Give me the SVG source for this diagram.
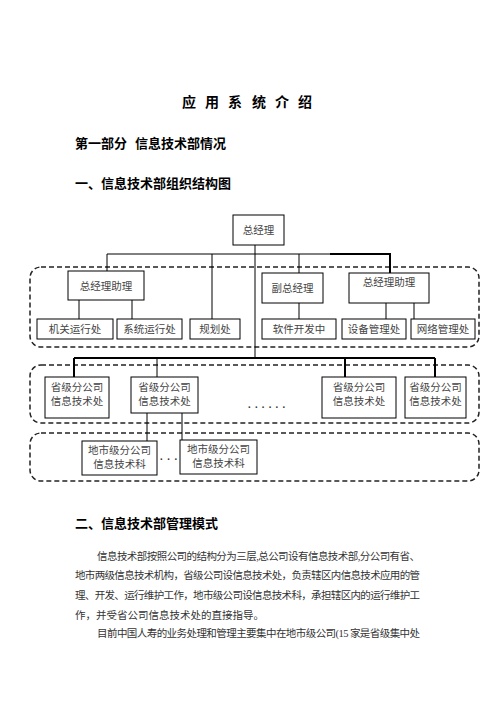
<svg xmlns="http://www.w3.org/2000/svg" width="496" height="702" viewBox="0 0 496 702">
<style>
.h{font-family:"Noto Sans CJK SC","Liberation Sans",sans-serif;font-weight:bold;fill:#000}
.b{font-family:"Liberation Serif","Noto Sans CJK SC",serif;font-size:10.5px;fill:#333}
.n{font-family:"Liberation Serif","Noto Sans CJK SC",serif;font-size:10.5px;fill:#444;text-anchor:middle}
.box{fill:#fff;stroke:#000;stroke-width:1}
.dash{fill:none;stroke:#222;stroke-width:1.5;stroke-dasharray:5,3}
.c{stroke:#000;stroke-width:1;fill:none}
.t{stroke:#000;stroke-width:2;fill:none}
</style>
<rect width="496" height="702" fill="#fff"/>
<text class="h" font-size="14" text-anchor="middle" x="189 212 235 259 282 305" y="107">应用系统介绍</text>
<text class="h" font-size="13" x="75" y="148">第一部分</text>
<text class="h" font-size="13" x="135" y="148">信息技术部情况</text>
<text class="h" font-size="13" x="75" y="188">一、信息技术部组织结构图</text>
<g id="groups">
<rect class="dash" x="30" y="267" width="449" height="80" rx="11"/>
<rect class="dash" x="30" y="365" width="449" height="58" rx="11"/>
<rect class="dash" x="30" y="433" width="449" height="48" rx="11"/>
</g>
<g id="connectors">
<path class="c" stroke-width="1.5" d="M107 254H390M107 254V271M212 254V319M299 254V273"/>
<path class="c" d="M299 303V319M79 300V319M132 300V319M386 303V319M414 303V319M157 358V377M147 413V441M182 413V440"/>
<path class="c" stroke-width="1.5" d="M255 245V358"/>
<path class="t" d="M330 254H390V273M74 358H435M74 358V377M345 358V377M435 358V377"/>
</g>
<g id="n-zjl"><rect class="box" x="233" y="215" width="51" height="30"/><text class="n" x="258.5" y="234" font-size="11">总经理</text></g>
<g id="n-zl1"><rect class="box" x="68" y="271" width="76" height="29"/><text class="n" x="106" y="290" font-size="11">总经理助理</text></g>
<g id="n-fzjl"><rect class="box" x="262" y="273" width="61" height="30"/><text class="n" x="292.5" y="292">副总经理</text></g>
<g id="n-zl2"><rect class="box" x="349" y="273" width="80" height="30"/><text class="n" x="389" y="286">总经理助理</text></g>
<g id="n-jg"><rect class="box" x="37" y="319" width="76" height="20"/><text class="n" x="75" y="333">机关运行处</text></g>
<g id="n-xt"><rect class="box" x="117" y="319" width="65" height="20"/><text class="n" x="149.5" y="333">系统运行处</text></g>
<g id="n-gh"><rect class="box" x="190" y="319" width="50" height="20"/><text class="n" x="215" y="333">规划处</text></g>
<g id="n-rj"><rect class="box" x="262" y="319" width="74" height="20"/><text class="n" x="299" y="333">软件开发中</text></g>
<g id="n-sb"><rect class="box" x="342" y="319" width="64" height="20"/><text class="n" x="374" y="333">设备管理处</text></g>
<g id="n-wl"><rect class="box" x="411" y="319" width="64" height="20"/><text class="n" x="443" y="333">网络管理处</text></g>
<g id="n-sj1"><rect class="box" x="45" y="377" width="64" height="41"/><text class="n" x="77" y="391">省级分公司</text><text class="n" x="77" y="405">信息技术处</text></g>
<g id="n-sj2"><rect class="box" x="131" y="377" width="67" height="36"/><text class="n" x="164.5" y="391">省级分公司</text><text class="n" x="164.5" y="405">信息技术处</text></g>
<g id="n-sj3"><rect class="box" x="322" y="377" width="74" height="41"/><text class="n" x="359" y="391">省级分公司</text><text class="n" x="359" y="405">信息技术处</text></g>
<g id="n-sj4"><rect class="box" x="405" y="377" width="61" height="41"/><text class="n" x="435.5" y="391">省级分公司</text><text class="n" x="435.5" y="405">信息技术处</text></g>
<text class="b" x="248" y="408" font-size="12" font-weight="bold" textLength="37" lengthAdjust="spacing">......</text>
<g id="n-ds1"><rect class="box" x="82" y="441" width="75" height="34"/><text class="n" x="119.5" y="454">地市级分公司</text><text class="n" x="119.5" y="468">信息技术科</text></g>
<text class="b" x="160" y="460" font-size="12" font-weight="bold" textLength="17" lengthAdjust="spacing">...</text>
<g id="n-ds2"><rect class="box" x="180" y="440" width="77" height="34"/><text class="n" x="218.5" y="453">地市级分公司</text><text class="n" x="218.5" y="467">信息技术科</text></g>
<text class="h" font-size="13" x="75" y="528">二、信息技术部管理模式</text>
<text class="b" x="97" y="560" textLength="323" lengthAdjust="spacing">信息技术部按照公司的结构分为三层,总公司设有信息技术部,分公司有省、</text>
<text class="b" x="75" y="579" textLength="345" lengthAdjust="spacing">地市两级信息技术机构，省级公司设信息技术处，负责辖区内信息技术应用的管</text>
<text class="b" x="75" y="599" textLength="345" lengthAdjust="spacing">理、开发、运行维护工作，地市级公司设信息技术科，承担辖区内的运行维护工</text>
<text class="b" x="75" y="619">作，并受省公司信息技术处的直接指导。</text>
<text class="b" x="97" y="637" textLength="323" lengthAdjust="spacing">目前中国人寿的业务处理和管理主要集中在地市级公司(15 家是省级集中处</text>
</svg>
